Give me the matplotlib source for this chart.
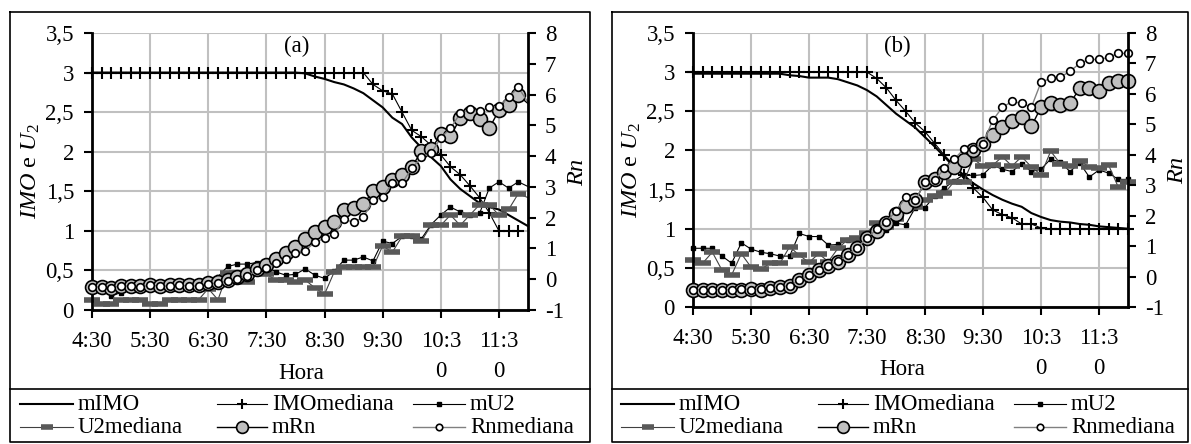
"""
plot.py — IMO / U2 / Rn ao longo do dia, painéis (a) e (b)
"""
import matplotlib
matplotlib.use("Agg")
import matplotlib.pyplot as plt
from matplotlib.lines import Line2D
from matplotlib.ticker import FuncFormatter
import numpy as np

plt.rcParams["font.family"] = ["Liberation Serif", "DejaVu Serif"]
plt.rcParams["mathtext.fontset"] = "custom"
plt.rcParams["mathtext.rm"] = "Liberation Serif"
plt.rcParams["mathtext.it"] = "Liberation Serif:italic"
plt.rcParams["axes.unicode_minus"] = False

nan = np.nan

# ---- dados: uma leitura a cada 10 min, 4:30 .. 12:00 (46 pontos) ----
hour_ticks = [0, 6, 12, 18, 24, 30, 36, 42]
hour_labels = ["4:30", "5:30", "6:30", "7:30", "8:30", "9:30", "10:3\n0", "11:3\n0"]
left_ticks = [0, 0.5, 1, 1.5, 2, 2.5, 3, 3.5]
right_ticks = [-1, 0, 1, 2, 3, 4, 5, 6, 7, 8]

# painel (a)
mIMO_a = [3.0, 3.0, 3.0, 3.0, 3.0, 3.0, 3.0, 3.0, 3.0, 3.0, 3.0, 3.0, 3.0, 3.0, 3.0,
          3.0, 3.0, 3.0, 3.0, 3.0, 3.0, 3.0, 2.99, 2.95, 2.92, 2.88, 2.85, 2.80, 2.74,
          2.65, 2.56, 2.43, 2.35, 2.18, 2.05, 1.93, 1.82, 1.65, 1.53, 1.44, 1.35, 1.30,
          1.27, 1.20, 1.13, 1.06]
IMOmed_a = [3.0, 3.0, 3.0, 3.0, 3.0, 3.0, 3.0, 3.0, 3.0, 3.0, 3.0, 3.0, 3.0, 3.0, 3.0,
            3.0, 3.0, 3.0, 3.0, 3.0, 3.0, 3.0, 3.0, 3.0, 3.0, 3.0, 3.0, 3.0, 3.0, 2.85,
            2.77, 2.73, 2.50, 2.27, 2.19, 2.08, 1.96, 1.81, 1.71, 1.57, 1.42, 1.23, 1.0,
            1.0, 1.0, nan]
mU2_a = [0.28, 0.28, 0.18, 0.22, 0.25, 0.27, 0.27, 0.26, 0.28, 0.27, 0.28, 0.28, 0.30,
         0.42, 0.55, 0.58, 0.58, 0.60, 0.55, 0.48, 0.44, 0.45, 0.52, 0.44, 0.40, 0.49,
         0.63, 0.63, 0.67, 0.62, 0.87, 0.84, 0.93, 0.93, 0.90, 1.08, 1.20, 1.30, 1.24,
         1.20, 1.22, 1.54, 1.62, 1.54, 1.62, 1.56]
U2med_a = [0.13, 0.08, 0.08, 0.13, 0.13, 0.13, 0.08, 0.08, 0.13, 0.13, 0.13, 0.13, 0.27,
           0.13, 0.47, 0.47, 0.36, 0.47, 0.45, 0.38, 0.38, 0.35, 0.38, 0.28, 0.20, 0.48,
           0.54, 0.54, 0.54, 0.54, 0.81, 0.73, 0.93, 0.93, 0.87, 1.07, 1.07, 1.20, 1.07,
           1.20, 1.33, 1.33, 1.20, 1.27, 1.47, 1.42]
mRn_a = [-0.25, -0.25, -0.27, -0.22, -0.22, -0.22, -0.20, -0.22, -0.20, -0.20, -0.20,
         -0.20, -0.13, -0.10, -0.03, 0.06, 0.16, 0.32, 0.45, 0.65, 0.85, 1.05, 1.30, 1.53,
         1.69, 1.85, 2.24, 2.30, 2.43, 2.86, 2.99, 3.21, 3.38, 3.64, 4.16, 4.22, 4.71,
         4.64, 5.23, 5.39, 5.19, 4.90, 5.49, 5.65, 5.97, 5.71]
Rnmed_a = [-0.25, -0.25, -0.27, -0.22, -0.22, -0.24, -0.20, -0.22, -0.22, -0.20, -0.22,
           -0.22, -0.15, -0.12, -0.06, 0.02, 0.10, 0.29, 0.35, 0.52, 0.65, 0.84, 0.93,
           1.20, 1.33, 1.46, 1.95, 1.85, 2.01, 2.56, 2.66, 3.12, 3.12, 3.60, 3.96, 4.09,
           4.60, 4.90, 5.39, 5.52, 5.45, 5.58, 5.62, 5.91, 6.23, 5.75]

# painel (b)
mIMO_b = [2.98, 2.98, 2.98, 2.98, 2.98, 2.98, 2.98, 2.98, 2.98, 2.98, 2.96, 2.95, 2.93,
          2.93, 2.93, 2.91, 2.87, 2.83, 2.77, 2.69, 2.58, 2.47, 2.38, 2.29, 2.17, 2.05,
          1.92, 1.79, 1.68, 1.58, 1.50, 1.43, 1.37, 1.32, 1.28, 1.20, 1.15, 1.11, 1.09,
          1.08, 1.06, 1.05, 1.03, 1.02, 1.01, 1.0]
IMOmed_b = [3.0, 3.0, 3.0, 3.0, 3.0, 3.0, 3.0, 3.0, 3.0, 3.0, 3.0, 3.0, 3.0, 3.0, 3.0,
            3.0, 3.0, 3.0, 3.0, 2.92, 2.80, 2.64, 2.50, 2.35, 2.24, 2.09, 1.94, 1.81,
            1.69, 1.52, 1.40, 1.24, 1.18, 1.14, 1.06, 1.06, 1.01, 1.0, 1.0, 1.0, 1.0,
            1.0, 1.0, 1.0, 1.0, 1.0]
mU2_b = [0.75, 0.75, 0.75, 0.65, 0.56, 0.82, 0.74, 0.70, 0.68, 0.65, 0.65, 0.94, 0.90,
         0.90, 0.79, 0.80, 0.86, 0.85, 0.95, 1.05, 0.98, 1.07, 1.05, 1.27, 1.27, 1.42,
         1.52, 1.61, 1.69, 1.68, 1.69, 1.81, 1.76, 1.73, 1.83, 1.73, 1.76, 1.89, 1.85,
         1.73, 1.84, 1.66, 1.75, 1.71, 1.63, 1.63]
U2med_b = [0.60, 0.56, 0.70, 0.47, 0.41, 0.68, 0.51, 0.48, 0.56, 0.56, 0.77, 0.66, 0.57,
           0.68, 0.58, 0.75, 0.86, 0.88, 0.95, 1.07, 1.02, 1.12, 1.25, 1.28, 1.37, 1.42,
           1.45, 1.60, 1.60, 1.89, 1.80, 1.81, 1.92, 1.80, 1.92, 1.79, 1.69, 1.99, 1.83,
           1.80, 1.87, 1.79, 1.78, 1.81, 1.53, 1.60]
mRn_b = [-0.43, -0.43, -0.43, -0.43, -0.43, -0.43, -0.42, -0.43, -0.38, -0.33, -0.30,
         -0.12, 0.05, 0.22, 0.36, 0.47, 0.71, 0.95, 1.27, 1.50, 1.75, 2.06, 2.33, 2.50,
         3.10, 3.20, 3.42, 3.60, 3.82, 4.17, 4.37, 4.64, 4.90, 5.10, 5.23, 4.93, 5.56,
         5.69, 5.62, 5.69, 6.18, 6.18, 6.09, 6.35, 6.42, 6.42]
Rnmed_b = [-0.43, -0.43, -0.43, -0.43, -0.43, -0.40, -0.43, -0.40, -0.36, -0.33, -0.30,
           -0.12, 0.05, 0.22, 0.36, 0.50, 0.71, 0.95, 1.27, 1.55, 1.80, 2.15, 2.60, 2.50,
           3.10, 3.16, 3.55, 3.85, 4.18, 4.20, 4.37, 5.13, 5.56, 5.75, 5.69, 5.56, 6.38,
           6.51, 6.55, 6.74, 7.00, 7.13, 7.13, 7.20, 7.33, 7.33]

# ---- estilos das séries ----
STY = {
    "mIMO": dict(color="black", linewidth=1.5),
    "IMOmediana": dict(color="black", linewidth=0.8, marker="+", markersize=8,
                       markeredgewidth=1.5),
    "mU2": dict(color="black", linewidth=0.8, marker="s", markersize=3.5,
                markerfacecolor="black", markeredgecolor="black"),
    "U2mediana": dict(color="#404040", linewidth=0.8, marker="_", markersize=11,
                      markeredgewidth=4, markeredgecolor="#595959"),
    "mRn": dict(color="black", linewidth=1.0, marker="o", markersize=10,
                markerfacecolor="#c0c0c0", markeredgecolor="black",
                markeredgewidth=1.2),
    "Rnmediana": dict(color="#808080", linewidth=1.0, marker="o", markersize=5.5,
                      markerfacecolor="white", markeredgecolor="black",
                      markeredgewidth=1.2),
}

W, H = 1191, 444
FS = 16.5   # ticks / eixos
LFS = 16.5  # legenda


def px(x, y):
    return x / W, 1 - y / H


def comma(v, _pos):
    return f"{v:g}".replace(".", ",")


def draw_panel(fig, box, tag, series, last_marker=True):
    x0, y0 = px(box[0], box[3])
    x1, y1 = px(box[2], box[1])
    ax = fig.add_axes([x0, y0, x1 - x0, y1 - y0])
    ax2 = ax.twinx()
    x = np.arange(len(series["mIMO"]))
    mk = slice(None) if last_marker else slice(0, len(x) - 1)

    for name in ["mIMO", "IMOmediana", "mU2", "U2mediana"]:
        kw = dict(STY[name])
        if "marker" in kw:
            kw["markevery"] = mk
        ax.plot(x, series[name], clip_on=False, **kw)
    for name in ["mRn", "Rnmediana"]:
        kw = dict(STY[name])
        kw["markevery"] = mk
        ax2.plot(x, series[name], clip_on=False, **kw)

    ax.set_xlim(0, len(x) - 1)
    ax.set_ylim(0, 3.5)
    ax2.set_ylim(-1, 8)
    ax.set_xticks(hour_ticks)
    ax.set_xticklabels(hour_labels, fontsize=FS, linespacing=1.6)
    ax.set_yticks(left_ticks)
    ax.yaxis.set_major_formatter(FuncFormatter(comma))
    ax2.set_yticks(right_ticks)
    ax.tick_params(axis="y", labelsize=FS, length=6, width=1.5, pad=7)
    ax.tick_params(axis="x", labelsize=FS, length=6, width=1.5, pad=9)
    ax2.tick_params(axis="y", labelsize=FS, length=6, width=1.5, pad=6)

    ax.grid(True, color="#c0c0c0", linewidth=1.5)
    ax.set_axisbelow(True)
    for a in (ax, ax2):
        a.spines["top"].set_visible(False)
    ax.spines["right"].set_visible(False)
    ax2.spines["left"].set_visible(False)
    ax2.spines["bottom"].set_visible(False)
    for sp in (ax.spines["left"], ax.spines["bottom"], ax2.spines["right"]):
        sp.set_linewidth(2)

    ax.set_ylabel(r"$\mathit{IMO}$ e $\mathit{U}_{\mathrm{2}}$", fontsize=FS + 1)
    ax.yaxis.set_label_coords(-0.115, 0.5)
    ax2.set_ylabel(r"$\mathit{Rn}$", fontsize=FS + 1)
    ax2.yaxis.set_label_coords(1.09, 0.5)
    ax.set_xlabel("Hora", fontsize=FS)
    ax.xaxis.set_label_coords(0.48, -0.19)
    ax.text(0.47, 0.95, tag, transform=ax.transAxes, ha="center", va="center",
            fontsize=FS)
    return ax


def draw_legend(fig, dx):
    rows = [404, 427]
    cols = [(20, 73, 78), (217, 267, 272), (413, 465, 470)]
    order = [["mIMO", "IMOmediana", "mU2"], ["U2mediana", "mRn", "Rnmediana"]]
    for r, names in zip(rows, order):
        for (a, b, t), name in zip(cols, names):
            xa, yy = px(a + dx, r)
            xb, _ = px(b + dx, r)
            xm = (xa + xb) / 2
            kw = dict(STY[name])
            if "markersize" in kw:
                kw["markersize"] *= 0.85
            fig.add_artist(Line2D([xa, xm, xb], [yy, yy, yy], transform=fig.transFigure,
                                  markevery=[1], **kw))
            xt, _ = px(t + dx, r)
            fig.text(xt, yy, name, fontsize=LFS, ha="left", va="center")


def frame(fig, left, right, top, bottom, sep):
    pts = [(left, top), (right, top), (right, bottom), (left, bottom), (left, top)]
    xs, ys = zip(*[px(a, b) for a, b in pts])
    fig.add_artist(Line2D(xs, ys, transform=fig.transFigure, color="black", lw=1.2))
    xa, ys_ = px(left, sep)
    xb, _ = px(right, sep)
    fig.add_artist(Line2D([xa, xb], [ys_, ys_], transform=fig.transFigure,
                          color="black", lw=1.2))


fig = plt.figure(figsize=(W / 100, H / 100), dpi=100)

draw_panel(fig, (92, 33, 528, 310), "(a)",
           {"mIMO": mIMO_a, "IMOmediana": IMOmed_a, "mU2": mU2_a,
            "U2mediana": U2med_a, "mRn": mRn_a, "Rnmediana": Rnmed_a},
           last_marker=False)
draw_panel(fig, (693, 33, 1128, 307), "(b)",
           {"mIMO": mIMO_b, "IMOmediana": IMOmed_b, "mU2": mU2_b,
            "U2mediana": U2med_b, "mRn": mRn_b, "Rnmediana": Rnmed_b})

frame(fig, 10, 590, 12, 442, 389)
frame(fig, 612, 1188, 12, 442, 389)
draw_legend(fig, 0)
draw_legend(fig, 601)

fig.savefig("out.png", dpi=100)
